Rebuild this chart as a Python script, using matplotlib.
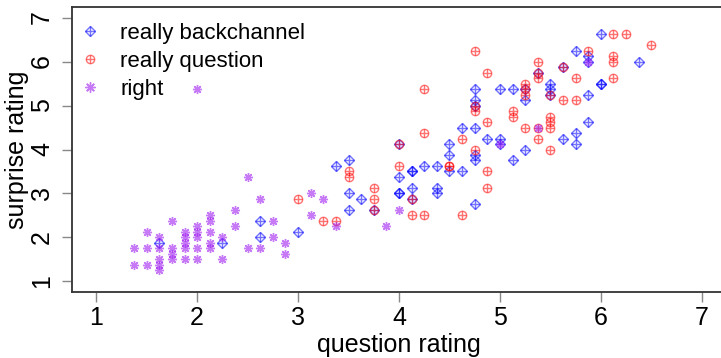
import numpy as np
import matplotlib.pyplot as plt
from matplotlib.lines import Line2D

# ratings (on 1/8 grid)
bc_x = [1.625, 2.25, 2.625, 2.625, 3.0,
        3.375, 3.5, 3.5, 3.5, 3.625, 3.75,
        4.0, 4.0, 4.0, 4.0, 4.125, 4.125, 4.125, 4.125,
        4.25, 4.375, 4.375, 4.375,
        4.5, 4.5, 4.5, 4.625, 4.625,
        4.75, 4.75, 4.75, 4.75, 4.75, 4.75, 4.75,
        4.875, 5.0, 5.0, 5.0, 5.125, 5.125,
        5.25, 5.25, 5.25, 5.375, 5.5, 5.5, 5.5,
        5.625, 5.625, 5.75, 5.75, 5.75,
        5.875, 5.875, 5.875, 5.875,
        6.0, 6.0, 6.0, 6.375]
bc_y = [1.875, 1.875, 2.375, 2.0, 2.125,
        3.625, 3.75, 3.0, 2.625, 2.875, 2.625,
        4.125, 3.375, 3.0, 3.0, 3.5, 3.5, 3.125, 2.875,
        3.625, 3.625, 3.125, 3.0,
        4.125, 3.875, 3.5, 4.5, 3.5,
        5.375, 5.125, 5.0, 4.5, 3.875, 3.75, 2.75,
        4.25, 5.375, 4.25, 4.125, 5.375, 3.75,
        5.375, 5.125, 4.0, 5.75, 5.5, 5.375, 5.25,
        5.875, 4.25, 6.25, 4.375, 4.125,
        6.125, 6.0, 5.25, 4.625,
        6.625, 5.5, 5.5, 6.0]

q_x = [3.0, 3.25, 3.375, 3.5, 3.5, 3.75, 3.75, 3.75,
       4.0, 4.0, 4.125, 4.125, 4.25, 4.25, 4.25,
       4.5, 4.5, 4.625, 4.625, 4.75, 4.75, 4.75, 4.75,
       4.875, 4.875, 4.875, 4.875, 5.125, 5.125,
       5.25, 5.25, 5.25, 5.25, 5.375, 5.375, 5.375, 5.375, 5.375,
       5.5, 5.5, 5.5, 5.5, 5.5,
       5.625, 5.625, 5.75, 5.75, 5.875,
       6.125, 6.125, 6.125, 6.125, 6.25, 6.5]
q_y = [2.875, 2.375, 2.375, 3.5, 3.375, 3.125, 2.875, 2.625,
       4.125, 3.625, 2.875, 2.5, 5.375, 4.375, 2.5,
       3.625, 3.625, 4.25, 2.5, 6.25, 5.0, 4.875, 4.0,
       5.75, 4.625, 3.5, 3.125, 4.875, 4.75,
       5.5, 5.375, 5.25, 4.5, 6.0, 5.75, 5.625, 4.5, 4.25,
       5.25, 4.75, 4.625, 4.5, 4.0,
       5.875, 5.125, 5.625, 5.125, 6.25,
       6.625, 6.125, 6.0, 5.625, 6.625, 6.375]

r_x = [1.375, 1.375, 1.5, 1.5, 1.5,
       1.625, 1.625, 1.625, 1.625, 1.625,
       1.75, 1.75, 1.75, 1.75,
       1.875, 1.875, 1.875, 1.875, 1.875,
       2.0, 2.0, 2.0, 2.0, 2.0, 2.0,
       2.125, 2.125, 2.125, 2.125, 2.125,
       2.25, 2.25, 2.375, 2.375, 2.5, 2.5,
       2.625, 2.625, 2.75, 2.75, 2.875, 2.875,
       3.125, 3.125, 3.25, 3.375, 3.875, 4.0,
       5.0, 5.375, 5.875]
r_y = [1.75, 1.375, 2.125, 1.75, 1.375,
       2.0, 1.75, 1.5, 1.375, 1.25,
       2.375, 1.75, 1.625, 1.5,
       2.125, 2.0, 1.875, 1.75, 1.5,
       5.375, 2.25, 2.125, 2.0, 1.75, 1.5,
       2.5, 2.375, 2.125, 1.875, 1.75,
       2.0, 1.5, 2.625, 2.25, 3.375, 1.75,
       2.875, 1.75, 2.375, 2.0, 1.875, 1.625,
       3.0, 2.5, 2.875, 2.25, 2.25, 2.625,
       4.125, 4.5, 6.0]

ticks = [1, 2, 3, 4, 5, 6, 7]

plt.rcParams['font.family'] = ['Liberation Sans', 'DejaVu Sans']

BLUE = (0, 0, 1, 0.55)
RED = (1, 0, 0, 0.55)
PURPLE = (0.63, 0.13, 0.94, 0.6)

fig = plt.figure(figsize=(7.21, 3.58), dpi=100)
ax = fig.add_axes([72 / 721, 66 / 358, 654 / 721, 285 / 358])

# backchannel: diamond with plus
ax.plot(bc_x, bc_y, ls='none', marker='D', ms=5.2, mfc='none', mec=BLUE, mew=1)
ax.plot(bc_x, bc_y, ls='none', marker='+', ms=7.2, mec=BLUE, mew=1)
# question: circle with plus
ax.plot(q_x, q_y, ls='none', marker='o', ms=6, mfc='none', mec=RED, mew=1)
ax.plot(q_x, q_y, ls='none', marker='+', ms=6, mec=RED, mew=1)
# right: asterisk
ax.plot(r_x, r_y, ls='none', marker=(8, 2, 0), ms=6.5, mec=PURPLE, mew=1)

ax.set_xlim(0.76, 7.24)
ax.set_ylim(0.76, 7.24)
ax.set_xticks(ticks)
ax.set_yticks(ticks)
ax.set_yticklabels([str(t) for t in ticks], rotation=90, va='center')
ax.tick_params(labelsize=18, length=7, width=1, color='#888888', pad=3)
ax.tick_params(axis='y', pad=6)
for s in ax.spines.values():
    s.set_linewidth(1.3)
    s.set_color('#333333')

ax.set_xlabel('question rating', fontsize=18, labelpad=2)
ax.set_ylabel('surprise rating', fontsize=18, labelpad=1)

h_bc = (Line2D([], [], ls='none', marker='D', ms=5.2, mfc='none', mec=BLUE, mew=1),
        Line2D([], [], ls='none', marker='+', ms=7.2, mec=BLUE, mew=1))
h_q = (Line2D([], [], ls='none', marker='o', ms=6, mfc='none', mec=RED, mew=1),
       Line2D([], [], ls='none', marker='+', ms=6, mec=RED, mew=1))
h_r = Line2D([], [], ls='none', marker=(8, 2, 0), ms=7.5, mec=PURPLE, mew=1)
ax.legend([h_bc, h_q, h_r], ['really backchannel', 'really question', 'right'],
          loc='upper left', bbox_to_anchor=(0.0107, 0.944), frameon=False,
          fontsize=16, handlelength=1.0, handletextpad=0.86, labelspacing=0.315,
          borderaxespad=0, borderpad=0)

fig.savefig('out.png', dpi=100)
